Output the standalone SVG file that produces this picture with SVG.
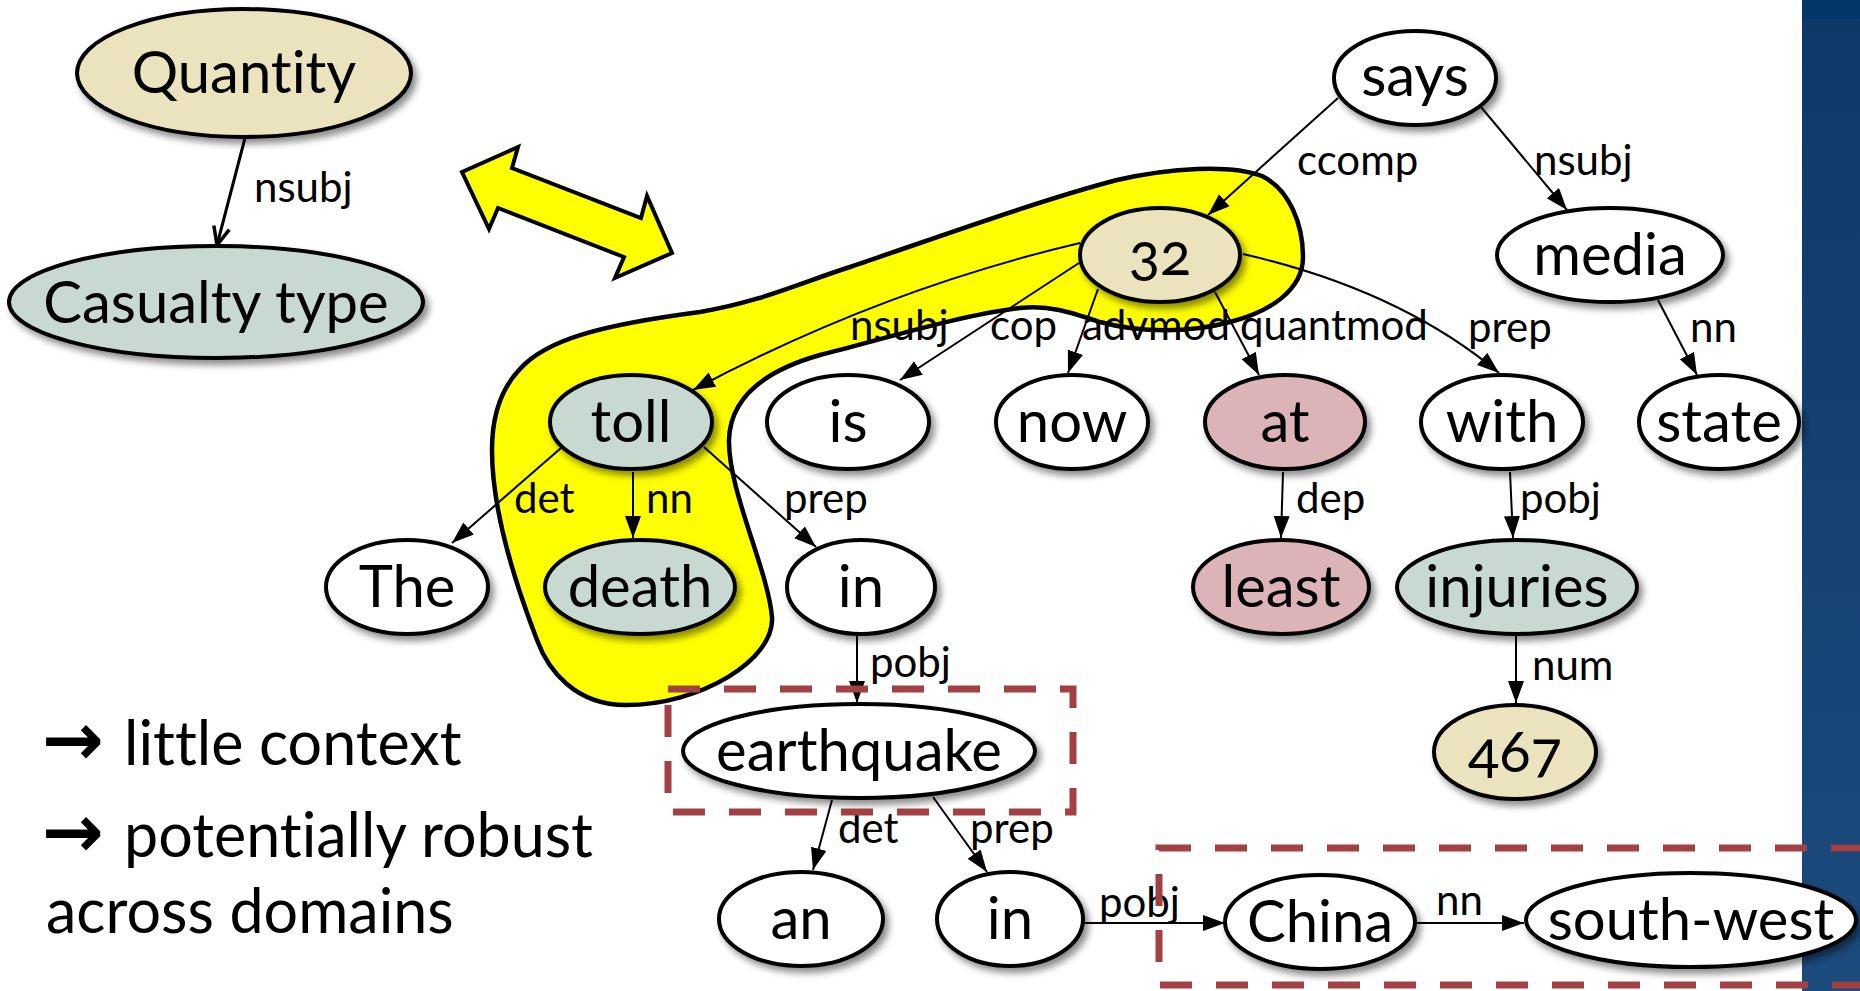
<svg xmlns="http://www.w3.org/2000/svg" width="1860" height="991" viewBox="0 0 1860 991">
  <defs>
    <linearGradient id="barFill" x1="0" y1="0" x2="0" y2="1">
      <stop offset="0" stop-color="#0e3867"/>
      <stop offset="1" stop-color="#1c4b7e"/>
    </linearGradient>
    <filter id="shadow" x="-20%" y="-20%" width="150%" height="170%">
      <feDropShadow dx="4" dy="5" stdDeviation="3.5" flood-color="#000" flood-opacity="0.45"/>
    </filter>
    <marker id="head" markerUnits="userSpaceOnUse" markerWidth="24" markerHeight="18" refX="22" refY="8" orient="auto">
      <path d="M0,0 L22,8 L0,16 z" fill="#000"/>
    </marker>
    <marker id="openHead" markerUnits="userSpaceOnUse" markerWidth="24" markerHeight="22" refX="20" refY="10" orient="auto">
      <path d="M2,2 L20,10 L2,18" fill="none" stroke="#000" stroke-width="3.5"/>
    </marker>
    <style>
      text { font-variant-ligatures: none; }
      .node ellipse { stroke: #000; stroke-width: 4; filter: url(#shadow); }
      .plain ellipse { fill: #fff; }
      .qty ellipse { fill: #ebe2be; }
      .cas ellipse { fill: #c8d9d1; }
      .mod ellipse { fill: #dcb4b8; }
      .node text { font-family: Lato, "Liberation Sans", sans-serif; font-size: 58px; text-anchor: middle; fill: #000; font-variant-numeric: oldstyle-nums; }
      .edge { stroke: #000; stroke-width: 2; fill: none; marker-end: url(#head); }
      .lbl { font-family: Lato, "Liberation Sans", sans-serif; font-size: 42px; fill: #000; }
      .frame { fill: none; stroke: #a34043; stroke-width: 7; stroke-dasharray: 32 24; }
      .note { font-family: Lato, "Liberation Sans", sans-serif; font-size: 61px; fill: #000; }
      .note .arw { font-family: "DejaVu Sans", sans-serif; font-weight: bold; font-size: 74px; }
    </style>
  </defs>

  <rect width="1860" height="991" fill="#fff"/>

  <!-- side bar -->
  <rect x="1802" y="0" width="58" height="991" fill="url(#barFill)"/>
  <rect x="1802" y="0" width="58" height="19" fill="#03376a"/>

  <!-- highlighted region around 32 / toll / death -->
  <path id="highlight" d="M 519,370 C 545,340 600,325 700,312 C 760,302 800,283 850,267 C 930,240 1040,200 1117,180 C 1170,168 1230,164 1262,176 C 1290,190 1303,225 1303,257 C 1303,290 1270,312 1230,322 C 1190,333 1140,333 1100,322 C 1070,312 1050,305 1020,308 C 960,315 880,340 820,355 C 760,372 730,400 729,440 C 728,490 768,570 772,617 C 775,660 700,705 626,705 C 575,705 548,670 537,640 C 515,583 492,510 492,450 C 492,410 505,385 519,370 Z" fill="#ffff00" stroke="#000" stroke-width="4.5"/>

  <!-- double-headed arrow -->
  <polygon id="mapping-arrow" points="462,172 518,147 512,168 641,218 647,196 672,253 615,278 624,257 498,208 489,229" fill="#ffff00" stroke="#000" stroke-width="4" stroke-linejoin="miter"/>

  <!-- connectors -->
  <g id="connectors">
    <line x1="245" y1="138" x2="217" y2="245" stroke="#000" stroke-width="3" marker-end="url(#openHead)"/>
    <text class="lbl" x="254" y="202">nsubj</text>

    <line class="edge" x1="1338" y1="98" x2="1208" y2="215"/>
    <text class="lbl" x="1297" y="175">ccomp</text>
    <line class="edge" x1="1481" y1="107" x2="1567" y2="210"/>
    <text class="lbl" x="1534" y="175">nsubj</text>
    <line class="edge" x1="1658" y1="300" x2="1697" y2="375"/>
    <text class="lbl" x="1690" y="342">nn</text>

    <path class="edge" d="M 1080,243 Q 880,290 693,390"/>
    <text class="lbl" x="850" y="340">nsubj</text>
    <line class="edge" x1="1079" y1="263" x2="900" y2="380"/>
    <text class="lbl" x="990" y="340">cop</text>
    <line class="edge" x1="1098" y1="289" x2="1068" y2="373"/>
    <text class="lbl" x="1082" y="340">advmod</text>
    <line class="edge" x1="1215" y1="292" x2="1259" y2="375"/>
    <text class="lbl" x="1240" y="340">quantmod</text>
    <path class="edge" d="M 1243,254 Q 1400,290 1499,373"/>
    <text class="lbl" x="1468" y="342">prep</text>

    <line class="edge" x1="561" y1="448" x2="452" y2="543"/>
    <text class="lbl" x="514" y="513">det</text>
    <line class="edge" x1="633" y1="472" x2="633" y2="538"/>
    <text class="lbl" x="646" y="513">nn</text>
    <line class="edge" x1="704" y1="447" x2="816" y2="547"/>
    <text class="lbl" x="784" y="513">prep</text>

    <line class="edge" x1="1283" y1="472" x2="1281" y2="538"/>
    <text class="lbl" x="1296" y="513">dep</text>
    <line class="edge" x1="1510" y1="472" x2="1513" y2="538"/>
    <text class="lbl" x="1520" y="513">pobj</text>

    <line class="edge" x1="857" y1="635" x2="857" y2="703"/>
    <text class="lbl" x="870" y="677">pobj</text>
    <line class="edge" x1="1516" y1="635" x2="1516" y2="703"/>
    <text class="lbl" x="1532" y="680">num</text>

    <line class="edge" x1="832" y1="800" x2="813" y2="870"/>
    <text class="lbl" x="838" y="843">det</text>
    <line class="edge" x1="933" y1="797" x2="987" y2="872"/>
    <text class="lbl" x="970" y="843">prep</text>

    <line class="edge" x1="1083" y1="923" x2="1225" y2="923"/>
    <text class="lbl" x="1099" y="917">pobj</text>
    <line class="edge" x1="1415" y1="923" x2="1524" y2="923"/>
    <text class="lbl" x="1436" y="915">nn</text>
  </g>

  <!-- nodes -->
  <g id="n-quantity" class="node qty"><ellipse cx="244" cy="73" rx="167" ry="64"/><text x="244" y="93">Quantity</text></g>
  <g id="n-casualty" class="node cas"><ellipse cx="216" cy="302" rx="207" ry="56"/><text x="216" y="323">Casualty type</text></g>

  <g id="n-says" class="node plain"><ellipse cx="1415" cy="78" rx="81" ry="47"/><text x="1415" y="96">says</text></g>
  <g id="n-32" class="node qty"><ellipse cx="1160" cy="255" rx="80" ry="47"/><text x="1160" y="275">32</text></g>
  <g id="n-media" class="node plain"><ellipse cx="1610" cy="255" rx="113" ry="47"/><text x="1610" y="275">media</text></g>

  <g id="n-toll" class="node cas"><ellipse cx="631" cy="422" rx="81" ry="47"/><text x="631" y="442">toll</text></g>
  <g id="n-is" class="node plain"><ellipse cx="848" cy="422" rx="81" ry="47"/><text x="848" y="442">is</text></g>
  <g id="n-now" class="node plain"><ellipse cx="1072" cy="422" rx="76" ry="47"/><text x="1072" y="442">now</text></g>
  <g id="n-at" class="node mod"><ellipse cx="1285" cy="422" rx="80" ry="47"/><text x="1285" y="442">at</text></g>
  <g id="n-with" class="node plain"><ellipse cx="1502" cy="422" rx="81" ry="47"/><text x="1502" y="442">with</text></g>
  <g id="n-state" class="node plain"><ellipse cx="1719" cy="422" rx="80" ry="47"/><text x="1719" y="442">state</text></g>

  <g id="n-the" class="node plain"><ellipse cx="407" cy="587" rx="81" ry="47"/><text x="407" y="607">The</text></g>
  <g id="n-death" class="node cas"><ellipse cx="640" cy="587" rx="95" ry="47"/><text x="640" y="607">death</text></g>
  <g id="n-in" class="node plain"><ellipse cx="861" cy="587" rx="74" ry="47"/><text x="861" y="607">in</text></g>
  <g id="n-least" class="node mod"><ellipse cx="1281" cy="587" rx="88" ry="47"/><text x="1281" y="607">least</text></g>
  <g id="n-injuries" class="node cas"><ellipse cx="1517" cy="587" rx="120" ry="47"/><text x="1517" y="607">injuries</text></g>

  <g id="n-earthquake" class="node plain"><ellipse cx="859" cy="751" rx="176" ry="47"/><text x="859" y="771">earthquake</text></g>
  <g id="n-467" class="node qty"><ellipse cx="1515" cy="752" rx="81" ry="47"/><text x="1515" y="772">467</text></g>

  <g id="n-an" class="node plain"><ellipse cx="801" cy="919" rx="82" ry="47"/><text x="801" y="939">an</text></g>
  <g id="n-in2" class="node plain"><ellipse cx="1010" cy="919" rx="73" ry="47"/><text x="1010" y="939">in</text></g>
  <g id="n-china" class="node plain"><ellipse cx="1320" cy="922" rx="95" ry="47"/><text x="1320" y="942">China</text></g>
  <g id="n-southwest" class="node plain"><ellipse cx="1691" cy="920" rx="165" ry="47"/><text x="1691" y="940">south-west</text></g>

  <!-- dashed frames -->
  <rect class="frame" x="668" y="689" width="405" height="123"/>
  <rect class="frame" x="1159" y="848" width="760" height="137"/>

  <!-- notes -->
  <text class="note" x="42" y="765"><tspan class="arw">→</tspan><tspan x="124">little context</tspan></text>
  <text class="note" x="42" y="857"><tspan class="arw">→</tspan><tspan x="124">potentially robust</tspan></text>
  <text class="note" x="46" y="933">across domains</text>
</svg>
